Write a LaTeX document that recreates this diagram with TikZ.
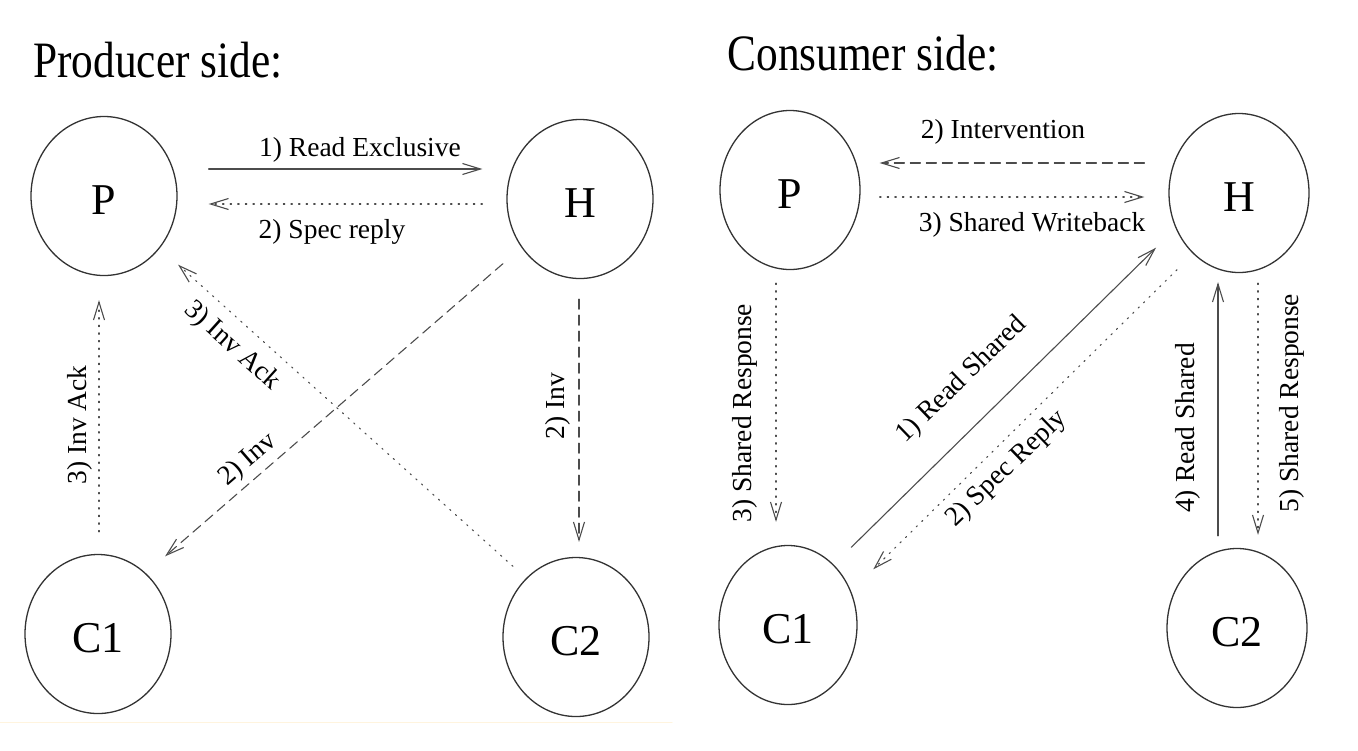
\documentclass[tikz,border=0pt]{standalone}
\usepackage{fontspec}
\setmainfont{Liberation Serif}
\newfontfamily\titlefont{Liberation Serif}[FakeStretch=0.85]
\usepackage{xcolor}
\definecolor{cropline}{RGB}{255,244,222}
\usetikzlibrary{arrows.meta}
\usetikzlibrary{shapes.geometric}
\usetikzlibrary{calc}

\begin{document}
\begin{tikzpicture}[line cap=round,line join=round,>={Straight Barb[length=9pt,width=5.5pt]},x=0.5pt,y=-0.5pt,
  agent/.style={ellipse,draw=black!80,line width=0.65pt,minimum width=73pt,minimum height=79.5pt,inner sep=0pt,text height=18.5pt,text depth=0pt,font=\fontsize{22pt}{26pt}\selectfont},
  msg/.style={->,draw=black!70,line width=0.55pt},
  dashmsg/.style={msg,dash pattern=on 5pt off 3pt},
  dotmsg/.style={msg,dash pattern=on 0.7pt off 3.1pt},
  lbl/.style={font=\fontsize{13.75pt}{16pt}\selectfont,inner sep=0pt},
  ttl/.style={font=\titlefont\fontsize{25.5pt}{30pt}\selectfont,anchor=base west,inner sep=0pt}]
\useasboundingbox (0,0) rectangle (1358,750);
% producer side
\node[ttl] (ttlprod) at (33,77) {Producer side:};
\node[agent] (pp) at (104,196) {P};
\node[agent] (hp) at (580,199) {H};
\node[agent] (c1p) at (98,634) {C1};
\node[agent] (c2p) at (576,637) {C2};
\draw[msg] ($(pp.east)+(31,-27)$) -- ($(hp.west)+(-24,-30)$);
\draw[dotmsg] ($(hp.west)+(-24,5)$) -- ($(pp.east)+(31,8)$);
\draw[dashmsg] ($(hp.south west)+(-25,8)$) -- ($(c1p.north east)+(15,-21)$);
\draw[dotmsg] ($(c2p.north west)+(-11,-14)$) -- ($(pp.south east)+(22,12)$);
\draw[dotmsg] ($(c1p.north)+(1,-22)$) -- ($(pp.south)+(-5,24)$);
\draw[dashmsg] ($(hp.south)+(-1,20)$) -- ($(c2p.north)+(3,-15)$);
\node[lbl] (lreadex) at (360,150) {1) Read Exclusive};
\node[lbl] (lspecp) at (332,232) {2) Spec reply};
\node[lbl,rotate=90] (lackv) at (80,425) {3) Inv Ack};
\node[lbl,rotate=-42] (lackd) at (232,346) {3) Inv Ack};
\node[lbl,rotate=41] (linvd) at (248,460) {2) Inv};
\node[lbl,rotate=90] (linvv) at (558,406) {2) Inv};
\draw[cropline,line width=0.5pt] (0,722) -- (672,722);
% consumer side
\node[ttl] (ttlcons) at (727,70) {Consumer side:};
\node[agent,minimum width=70pt] (pc) at (790,190) {P};
\node[agent,minimum width=70pt] (hc) at (1239,193) {H};
\node[agent,minimum width=69pt] (c1c) at (788,625) {C1};
\node[agent,minimum width=70pt] (c2c) at (1237,628) {C2};
\draw[dashmsg] ($(hc.west)+(-24,-30)$) -- ($(pc.east)+(19,-27)$);
\draw[dotmsg] ($(pc.east)+(19,7)$) -- ($(hc.west)+(-24,4)$);
\draw[msg] ($(c1c.north east)+(14,-21)$) -- ($(hc.south west)+(-33,-2)$);
\draw[dotmsg] ($(hc.south west)+(-12,20)$) -- ($(c1c.north east)+(36,1)$);
\draw[dotmsg] ($(pc.south)+(-14,13)$) -- ($(c1c.north)+(-12,-23)$);
\draw[msg] ($(c2c.north)+(-19,-12)$) -- ($(hc.south)+(-21,9)$);
\draw[dotmsg] ($(hc.south)+(19,10)$) -- ($(c2c.north)+(21,-13)$);
\node[lbl] (linterv) at (1003,132) {2) Intervention};
\node[lbl] (lwriteb) at (1032,225) {3) Shared Writeback};
\node[lbl,rotate=90] (lshresp) at (745,413) {3) Shared Response};
\node[lbl,rotate=44] (lrdsh) at (962,380) {1) Read Shared};
\node[lbl,rotate=44] (lspecc) at (1007,469) {2) Spec Reply};
\node[lbl,rotate=90] (lrdsh4) at (1188,428) {4) Read Shared};
\node[lbl,rotate=90] (lshresp5) at (1292,403) {5) Shared Response};
\end{tikzpicture}
\end{document}
